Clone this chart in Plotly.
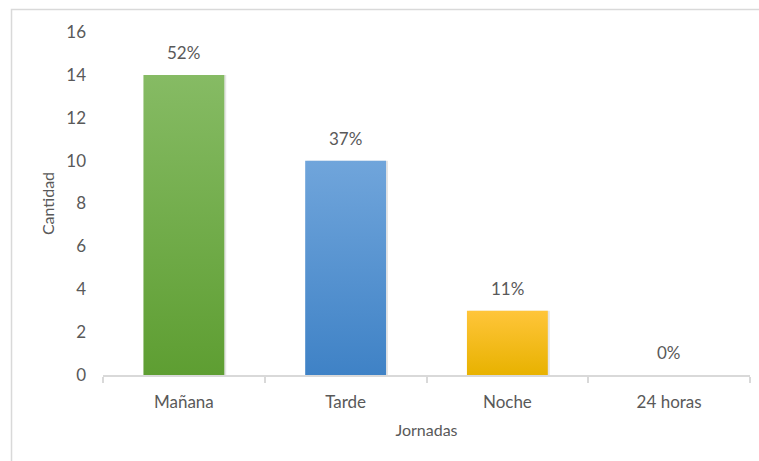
import plotly.graph_objects as go

# Turnos de trabajo y número de personas en cada uno
jornadas = ["Mañana", "Tarde", "Noche", "24 horas"]
cantidad = [14, 10, 3, 0]
porcentajes = ["52%", "37%", "11%", "0%"]

# Degradado vertical de cada barra: (color inferior, color superior)
gradientes = [
    ("#5e9e32", "#86bb64"),
    ("#3f82c6", "#70a5db"),
    ("#e8b200", "#ffc53a"),
    ("#9a9a9a", "#c8c8c8"),
]

ANCHO = 0.25  # media anchura de barra, en unidades de categoría
GRIS = "#595959"
FUENTE = "Lato"

fig = go.Figure()

for i, (valor, (abajo, arriba)) in enumerate(zip(cantidad, gradientes)):
    if valor <= 0:
        continue
    # sombra suave a la derecha de la barra
    fig.add_trace(go.Scatter(
        x=[i - ANCHO + 0.012, i + ANCHO + 0.012, i + ANCHO + 0.012, i - ANCHO + 0.012, i - ANCHO + 0.012],
        y=[0, 0, valor, valor, 0],
        fill="toself", fillcolor="rgba(0,0,0,0.10)",
        line=dict(width=0), mode="lines", hoverinfo="skip", showlegend=False,
    ))
    fig.add_trace(go.Scatter(
        x=[i - ANCHO, i + ANCHO, i + ANCHO, i - ANCHO, i - ANCHO],
        y=[0, 0, valor, valor, 0],
        fill="toself",
        fillgradient=dict(type="vertical", colorscale=[[0, abajo], [1, arriba]]),
        line=dict(width=0), mode="lines",
        name=jornadas[i], showlegend=False,
        hovertemplate=f"{jornadas[i]}: {valor}<extra></extra>",
    ))

# Etiquetas de porcentaje encima de cada barra
for i, (valor, pct) in enumerate(zip(cantidad, porcentajes)):
    fig.add_annotation(
        x=i, y=valor, text=pct, showarrow=False,
        yanchor="bottom", yshift=10,
        font=dict(family=FUENTE, size=17, color=GRIS),
    )

# Marco gris del gráfico
fig.add_shape(
    type="rect", xref="paper", yref="paper",
    x0=-0.1414, x1=1.2, y0=-0.4, y1=1.0656,
    line=dict(color="#d9d9d9", width=1.5), fillcolor="rgba(0,0,0,0)",
    layer="below",
)

fig.update_layout(
    width=759, height=461,
    margin=dict(l=103, r=9, t=32, b=86),
    paper_bgcolor="white", plot_bgcolor="white",
    font=dict(family=FUENTE, size=16, color=GRIS),
    showlegend=False,
)

fig.update_xaxes(
    range=[-0.5, 3.5],
    tickvals=list(range(len(jornadas))), ticktext=jornadas,
    ticks="", ticklabelstandoff=11,
    tickfont=dict(family=FUENTE, size=17, color=GRIS),
    minor=dict(tickvals=[-0.5, 0.5, 1.5, 2.5, 3.5], ticks="outside",
               ticklen=6, tickcolor="#d9d9d9", tickwidth=1.5),
    showline=True, linecolor="#d9d9d9", linewidth=1.5,
    showgrid=False, zeroline=False, fixedrange=True,
    title=dict(text="Jornadas", standoff=14,
               font=dict(family=FUENTE, size=16, color=GRIS)),
)

fig.update_yaxes(
    range=[0, 16], tickvals=list(range(0, 17, 2)),
    ticks="", ticklabelstandoff=16,
    tickfont=dict(family=FUENTE, size=17, color=GRIS),
    showline=False, showgrid=False, zeroline=False, fixedrange=True,
    title=dict(text="Cantidad", standoff=7,
               font=dict(family=FUENTE, size=16, color=GRIS)),
)

fig.write_html("out.html")
